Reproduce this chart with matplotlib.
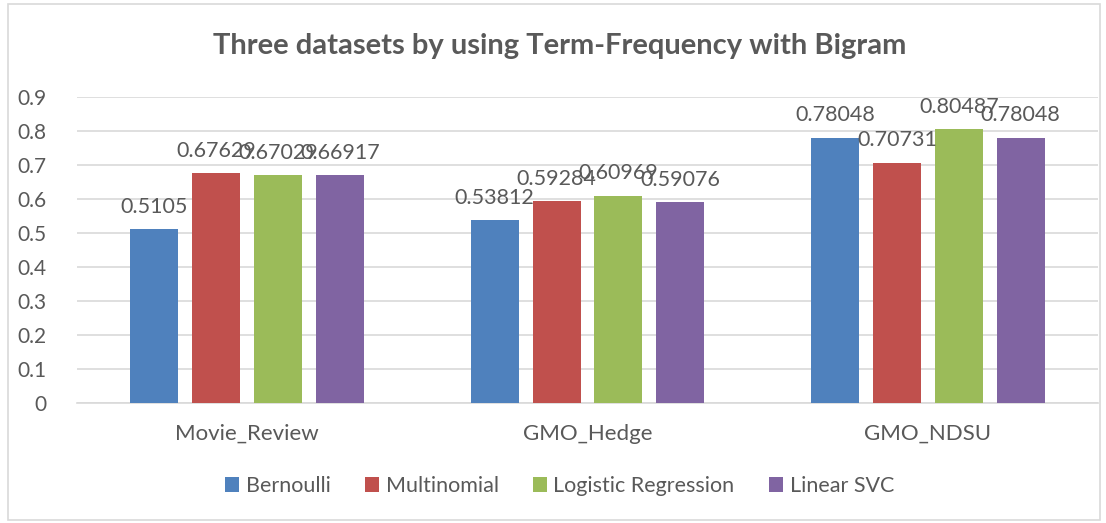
import matplotlib.pyplot as plt
import matplotlib.patches as mpatches
import numpy as np

plt.rcParams['font.family'] = ['Lato', 'DejaVu Sans']

categories = ['Movie_Review', 'GMO_Hedge', 'GMO_NDSU']
series_names = ['Bernoulli', 'Multinomial', 'Logistic Regression', 'Linear SVC']
bernoulli = [0.5105, 0.53812, 0.78048]
multinomial = [0.67629, 0.59284, 0.70731]
logistic = [0.67029, 0.60969, 0.80487]
linear_svc = [0.66917, 0.59076, 0.78048]
colors = ['#4F81BD', '#C0504D', '#9BBB59', '#8064A2']

txt = '#595959'
grid = '#D9D9D9'

fig = plt.figure(figsize=(11.06, 5.23), dpi=100)
W, H = 1106, 523
ax = fig.add_axes([77 / W, (H - 403) / H, (1098 - 77) / W, (403 - 97) / H])

# outer chart border
fig.patches.append(mpatches.Rectangle((8 / W, 3 / H), (1100 - 8) / W, (519 - 3) / H,
                                      transform=fig.transFigure, fill=False,
                                      edgecolor=grid, linewidth=1.2))

x = np.arange(len(categories))
step = 0.182
width = 0.141
all_series = [bernoulli, multinomial, logistic, linear_svc]
for i, (name, vals) in enumerate(zip(series_names, all_series)):
    bars = ax.bar(x + (i - 1.5) * step, vals, width, color=colors[i], label=name, zorder=3)
    ax.bar_label(bars, labels=[str(v) for v in vals], padding=9,
                 fontsize=15.5, color=txt, zorder=4)

ax.set_ylim(0, 0.9)
ax.set_xlim(-0.5, 2.5)
ax.set_yticks(np.arange(0, 0.91, 0.1))
ax.set_yticklabels(['0'] + ['%.1f' % v for v in np.arange(0.1, 0.91, 0.1)])
ax.set_xticks(x)
ax.set_xticklabels(categories)
ax.tick_params(axis='y', length=0, pad=22, labelsize=15, labelcolor=txt)
ax.tick_params(axis='x', length=0, pad=15, labelsize=16, labelcolor=txt)
ax.grid(axis='y', color=grid, linewidth=1.2, zorder=0)
for s in ['top', 'right', 'left']:
    ax.spines[s].set_visible(False)
ax.spines['bottom'].set_color(grid)
ax.spines['bottom'].set_linewidth(1.2)

fig.text(0.506, 1 - 46 / H, 'Three datasets by using Term-Frequency with Bigram',
         ha='center', va='center', fontsize=21, fontweight='bold', color=txt)

fig.legend(loc='center', bbox_to_anchor=(0.506, 1 - 486 / H), ncol=4, frameon=False,
           fontsize=15.5, labelcolor=txt, handlelength=0.65, handleheight=0.65,
           handletextpad=0.3, columnspacing=1.6)

fig.savefig('out.png', dpi=100, facecolor='white')
